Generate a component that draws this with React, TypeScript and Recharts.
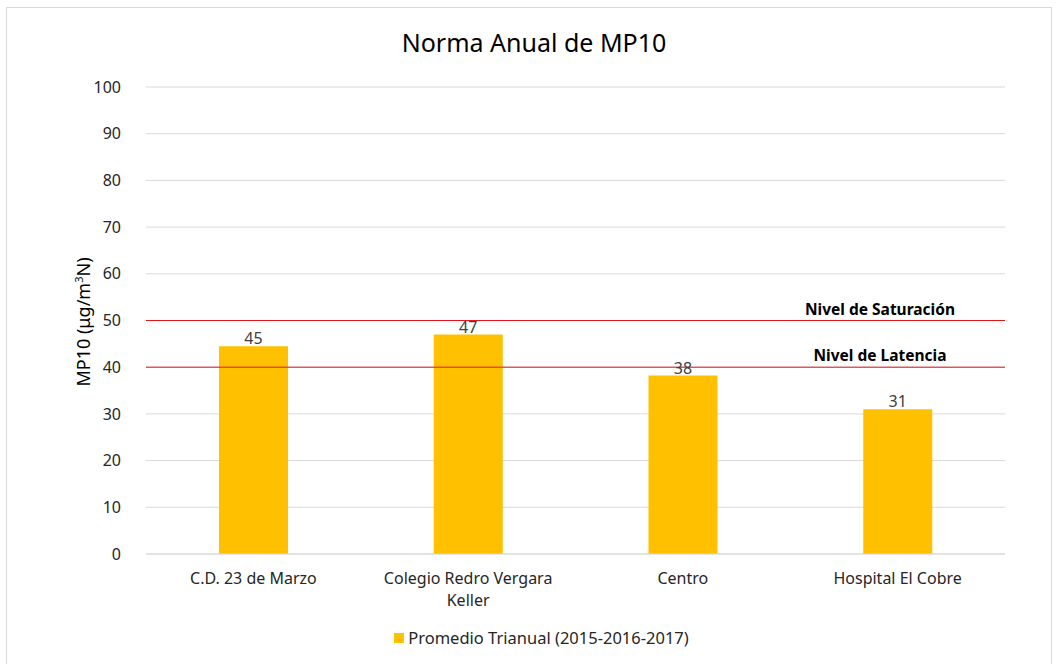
import React from "react";
import {
  BarChart,
  Bar,
  XAxis,
  YAxis,
  CartesianGrid,
  Legend,
  LabelList,
  ReferenceLine,
} from "recharts";

const stations = [
  "C.D. 23 de Marzo",
  "Colegio Redro Vergara Keller",
  "Centro",
  "Hospital El Cobre",
];
const promedio = [44.5, 47, 38.2, 31];
const yTicks = [0, 10, 20, 30, 40, 50, 60, 70, 80, 90, 100];
const saturacion = 50;
const latencia = 40;
const seriesName = "Promedio Trianual (2015-2016-2017)";

const chartData = stations.map((name, i) => ({ name, value: promedio[i] }));

const FONT = "'Noto Sans', 'Open Sans', sans-serif";

const WrappedTick = (props: any) => {
  const { x, y, payload } = props;
  const words: string[] = String(payload.value).split(" ");
  const lines: string[] = [];
  let cur = "";
  words.forEach((w) => {
    const next = cur ? cur + " " + w : w;
    if (next.length > 22 && cur) {
      lines.push(cur);
      cur = w;
    } else {
      cur = next;
    }
  });
  if (cur) lines.push(cur);
  return (
    <text x={x} y={y + 22} textAnchor="middle" fill="#262626" fontSize={16} fontFamily={FONT}>
      {lines.map((l, i) => (
        <tspan key={i} x={x} dy={i === 0 ? 0 : 22}>
          {l}
        </tspan>
      ))}
    </text>
  );
};

const RefLabel = (props: any) => {
  const { viewBox, text } = props;
  if (!viewBox) return null;
  return (
    <text
      x={viewBox.x + viewBox.width - 125}
      y={viewBox.y - 6}
      textAnchor="middle"
      fontSize={15.5}
      fontWeight="bold"
      fill="#000"
      fontFamily={FONT}
    >
      {text}
    </text>
  );
};

const LegendContent = () => (
  <div
    style={{
      display: "flex",
      justifyContent: "center",
      alignItems: "center",
      fontFamily: FONT,
      fontSize: 16.5,
      color: "#262626",
      paddingTop: 2,
      paddingLeft: 78,
    }}
  >
    <span style={{ width: 10, height: 10, background: "#FFC000", marginRight: 4, display: "inline-block" }} />
    <span>{seriesName}</span>
  </div>
);

export default function App() {
  return (
    <div style={{ position: "absolute", left: 0, top: 0, width: 1058, height: 664, background: "#fff" }}>
      <div
        style={{
          position: "absolute",
          left: 6,
          top: 7,
          width: 1046,
          height: 670,
          border: "1px solid #d9d9d9",
          boxSizing: "border-box",
        }}
      />
      <div
        style={{
          position: "absolute",
          top: 25,
          left: 0,
          width: 1068,
          textAlign: "center",
          fontFamily: FONT,
          fontSize: 25,
          color: "#000",
        }}
      >
        Norma Anual de MP10
      </div>
      <div
        style={{
          position: "absolute",
          left: 83,
          top: 322,
          transform: "translate(-50%, -50%) rotate(-90deg)",
          fontFamily: FONT,
          fontSize: 18,
          color: "#000",
          whiteSpace: "nowrap",
        }}
      >
        MP10 (μg/m<sup style={{ fontSize: 11 }}>3</sup>N)
      </div>
      <div style={{ position: "absolute", left: 0, top: 0 }}>
        <BarChart
          width={1058}
          height={664}
          data={chartData}
          margin={{ top: 87, right: 53, bottom: 0, left: 0 }}
          barCategoryGap="34%"
        >
          <CartesianGrid vertical={false} stroke="#d9d9d9" />
          <XAxis
            dataKey="name"
            tick={<WrappedTick />}
            tickLine={false}
            axisLine={{ stroke: "#d9d9d9" }}
            height={70}
            interval={0}
          />
          <YAxis
            width={146}
            domain={[0, 100]}
            ticks={yTicks}
            tickLine={false}
            axisLine={false}
            tick={{ fill: "#262626", fontSize: 16, fontFamily: FONT }}
            tickMargin={19}
          />
          <Legend verticalAlign="bottom" height={40} content={<LegendContent />} />
          <Bar dataKey="value" name={seriesName} fill="#FFC000" isAnimationActive={false}>
            <LabelList
              dataKey="value"
              position="top"
              offset={2}
              formatter={(v: any) => Math.round(Number(v))}
              style={{ fill: "#404040", fontSize: 16, fontFamily: FONT }}
            />
          </Bar>
          <ReferenceLine y={saturacion} stroke="#e0161b" strokeWidth={1} label={<RefLabel text="Nivel de Saturación" />} />
          <ReferenceLine y={latencia} stroke="#e0161b" strokeWidth={1} label={<RefLabel text="Nivel de Latencia" />} />
        </BarChart>
      </div>
    </div>
  );
}
